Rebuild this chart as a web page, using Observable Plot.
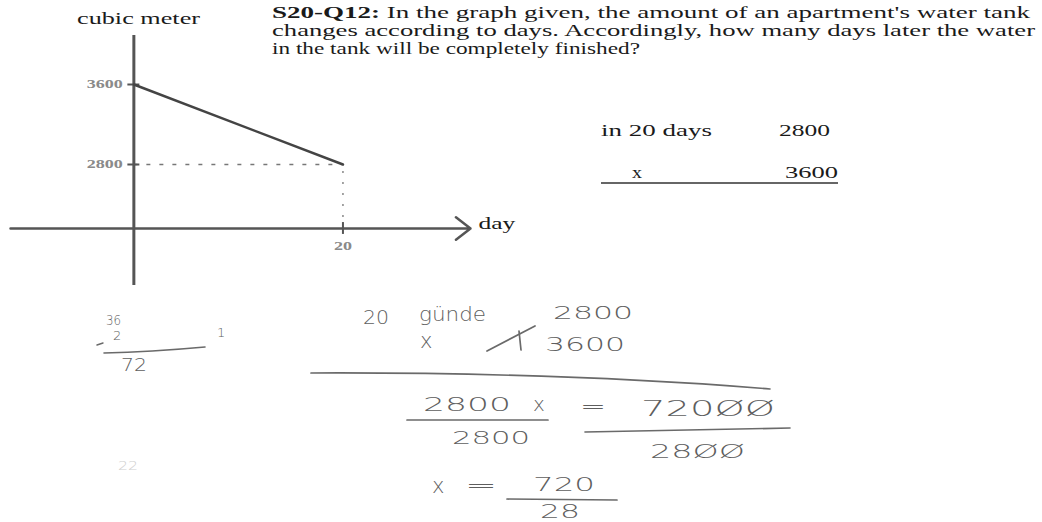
<!DOCTYPE html>
<html>
<head>
<meta charset="utf-8">
<script src="https://cdn.jsdelivr.net/npm/d3@7"></script>
<script src="https://cdn.jsdelivr.net/npm/@observablehq/plot@0.6"></script>
<style>
  html, body { margin: 0; padding: 0; background: #fff; }
  #page { position: relative; width: 1042px; height: 522px; overflow: hidden; background: #fff; }
  #page > svg { position: absolute; left: 0; top: 0; }
</style>
</head>
<body>
<div id="page"></div>
<script>
// ---- data ----------------------------------------------------------
const days = [0, 20];
const volumes = [3600, 2800];
const yTicks = [3600, 2800];
const xTicks = [20];
const yLabel = "cubic meter";
const xLabel = "day";

const questionTag = "S20-Q12:";
const questionLines = [
  " In the graph given, the amount of an apartment's water tank",
  "changes according to days. Accordingly, how many days later the water",
  "in the tank will be completely finished?"
];
const ratioRows = [["in 20 days", "2800"], ["x", "3600"]];

// handwritten working, in reading order
const handNotes = ["36", "2", "72", "1", "22", "20", "günde", "2800", "x", "3600",
                   "2800", "x", "2800", "=", "720ØØ", "28ØØ", "x", "=", "720", "28"];

// ---- chart -----------------------------------------------------------
const serif = "'Liberation Serif', 'Times New Roman', serif";
const hand = "'DejaVu Sans', sans-serif";
const xDomain = [-11.8, 32.2];
// the drawing is schematic: the gap between 0 and 2800 is squeezed
const yBreaks = [-2500, 0, 2800, 3600, 4100];
const yDrawn = [-57, 0, 64, 144, 193];
const squeeze = d3.scaleLinear().domain(yBreaks).range(yDrawn);
const pxPerDay = (470 - 10) / (xDomain[1] - xDomain[0]);
const tickHalf = 6 / pxPerDay;

const series = days.map((d, i) => ({day: d, volume: volumes[i]}));

const chart = Plot.plot({
  width: 540,
  height: 300,
  margin: 0,
  style: {background: "transparent", overflow: "visible"},
  x: {domain: xDomain, range: [10, 470], axis: null},
  // domain is expressed after the squeeze transform
  y: {domain: [yDrawn[0], yDrawn[yDrawn.length - 1]], transform: squeeze,
      range: [285, 35], axis: null},
  marks: [
    // guides from the end point back to the axes
    Plot.ruleY([volumes[1]], {x1: 0, x2: days[1], stroke: "#777", strokeWidth: 1.5, strokeDasharray: "4,9"}),
    Plot.ruleX([days[1]], {y1: 0, y2: volumes[1], stroke: "#888", strokeWidth: 1.5, strokeDasharray: "2,9"}),
    // axes crossing at the origin
    Plot.ruleX([0], {y1: yBreaks[0], y2: yBreaks[yBreaks.length - 1], stroke: "#555", strokeWidth: 3}),
    Plot.arrow([{a: xDomain[0], b: xDomain[1]}], {x1: "a", x2: "b", y1: 0, y2: 0,
      stroke: "#555", strokeWidth: 2.5, headLength: 11, headAngle: 75}),
    // tick marks
    Plot.ruleY(yTicks, {x1: -tickHalf, x2: tickHalf, stroke: "#555", strokeWidth: 2}),
    Plot.ruleX(xTicks, {y1: -260, y2: 260, stroke: "#555", strokeWidth: 2}),
    // tank volume over time
    Plot.line(series, {x: "day", y: "volume", stroke: "#444", strokeWidth: 2.5}),
    // labels
    Plot.text(yTicks, {x: 0, y: d => d, text: d => String(d), dx: -11, textAnchor: "end",
      fontSize: 12, fontWeight: "bold", fill: "#8a8a8a", fontFamily: serif}),
    Plot.text(xTicks, {x: d => d, y: 0, text: d => String(d), dy: 18,
      fontSize: 12, fontWeight: "bold", fill: "#8a8a8a", fontFamily: serif}),
    Plot.text([xLabel], {x: xDomain[1], y: 0, text: d => d, dx: 8, dy: -5, textAnchor: "start",
      fontSize: 17, fill: "#1a1a1a", fontFamily: serif})
  ]
});
document.getElementById("page").appendChild(chart);

// the scanned sheet is wide: stretch chart lettering horizontally
d3.select(chart).selectAll("text").each(function () {
  const L = this.getComputedTextLength();
  d3.select(this).attr("textLength", L * 1.5).attr("lengthAdjust", "spacingAndGlyphs");
});

// ---- sheet text (question, ratio table, handwriting) -----------------
const sheet = d3.select("#page").append("svg")
  .attr("width", 1042).attr("height", 522)
  .style("pointer-events", "none");

function printed(text, x, y, size, width, opts = {}) {
  const t = sheet.append("text")
    .attr("x", x).attr("y", y)
    .attr("font-family", serif).attr("font-size", size)
    .attr("fill", opts.fill || "#1a1a1a")
    .attr("font-weight", opts.weight || "normal")
    .attr("text-anchor", opts.anchor || "start")
    .text(text);
  if (width) t.attr("textLength", width).attr("lengthAdjust", "spacingAndGlyphs");
  return t;
}

// y-axis title
printed(yLabel, 77, 24, 17, 123);

// question
const q1 = sheet.append("text").attr("x", 272).attr("y", 18)
  .attr("font-family", serif).attr("font-size", 17).attr("fill", "#1a1a1a");
q1.append("tspan").attr("font-weight", "bold").text(questionTag);
q1.append("tspan").text(questionLines[0]);
q1.attr("textLength", 758).attr("lengthAdjust", "spacingAndGlyphs");
printed(questionLines[1], 272, 36, 17, 763);
printed(questionLines[2], 272, 54, 17, 368);

// ratio table
printed(ratioRows[0][0], 601, 136, 17, 111);
printed(ratioRows[0][1], 779, 136, 17, 51);
printed(ratioRows[1][0], 632, 178, 17, 10);
printed(ratioRows[1][1], 785, 178, 17, 53);
sheet.append("line").attr("x1", 601).attr("x2", 838).attr("y1", 183).attr("y2", 183)
  .attr("stroke", "#333").attr("stroke-width", 1.5);

// handwritten working
const ink = "#5e5e5e";
function note(i, x, y, size, width, opts = {}) {
  const t = sheet.append("text")
    .attr("x", x).attr("y", y)
    .attr("font-family", hand).attr("font-size", size)
    .attr("font-weight", opts.weight || 300)
    .attr("fill", opts.fill || ink)
    .text(handNotes[i]);
  if (width) t.attr("textLength", width).attr("lengthAdjust", opts.adjust || "spacingAndGlyphs");
  return t;
}
function stroke(d, w = 1.7, c = "#6a6a6a") {
  sheet.append("path").attr("d", d).attr("fill", "none")
    .attr("stroke", c).attr("stroke-width", w).attr("stroke-linecap", "round");
}

// side multiplication
note(0, 106, 325, 14, 15);
note(1, 113, 340, 13);
stroke("M97,345 L103,343", 1.4);
stroke("M104,353 Q150,352 205,347", 1.6);
note(2, 121, 371, 17, 26);
note(3, 217, 337, 13);
note(4, 118, 470, 13, 20, {fill: "#d0d0d0"});

// cross multiplication
note(5, 363, 324, 19, 26);
note(6, 419, 321, 19, 67);
note(7, 553, 319, 18, 80);
note(8, 420, 348, 21);
stroke("M487,351 L535,326");
stroke("M519,331 L521,350");
note(9, 545, 351, 20, 80);
stroke("M311,373 Q560,372 770,389");

// solving for x
note(10, 423, 411, 19, 88);
note(11, 533, 411, 20);
stroke("M407,420 L548,420");
note(12, 452, 444, 18, 78);
note(13, 580, 414, 22, 26);
note(14, 641, 416, 21, 134);
stroke("M585,432 Q690,430 790,428");
note(15, 650, 458, 19, 95);
note(16, 432, 493, 21);
note(17, 465, 493, 22, 32);
note(18, 533, 491, 20, 62);
stroke("M507,499 L617,500");
note(19, 540, 518, 19, 40);
</script>
</body>
</html>
